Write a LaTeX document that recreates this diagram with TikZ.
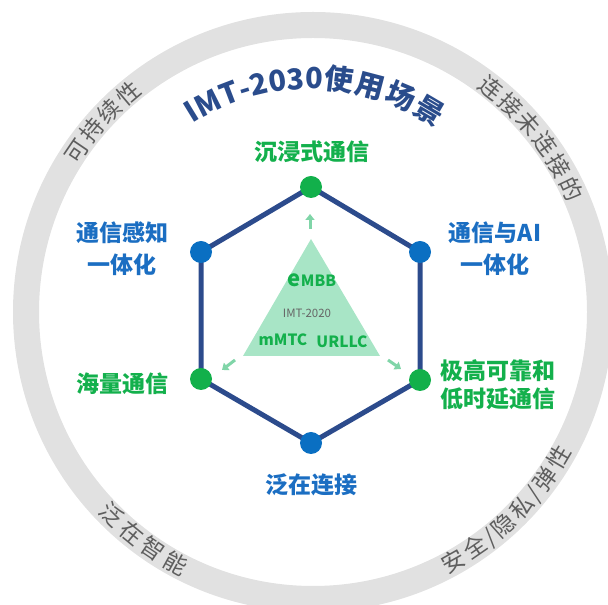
\documentclass[tikz,border=0pt]{standalone}
\usepackage{fontspec}
\setmainfont{Noto Sans CJK SC}
\usetikzlibrary{arrows.meta,backgrounds}
\definecolor{ringgray}{HTML}{E1E1E1}
\definecolor{ringtext}{HTML}{5E5E5E}
\definecolor{navy}{HTML}{2C4B8C}
\definecolor{titleblue}{HTML}{2A4C8C}
\definecolor{nodeblue}{HTML}{0A6FC2}
\definecolor{nodegreen}{HTML}{12B04B}
\definecolor{labelblue}{HTML}{1B6EC2}
\definecolor{labelgreen}{HTML}{13B04C}
\definecolor{tri}{HTML}{A8E5C6}
\definecolor{arrowgreen}{HTML}{80D5A8}
\definecolor{imtgray}{HTML}{666666}
\newcommand\myslash{/}
\tikzset{
  ringtxt/.style={text=ringtext, font=\fontsize{23}{23}\selectfont, inner sep=0pt, anchor=base},
  titlechar/.style={text=titleblue, font=\fontsize{29}{29}\selectfont\bfseries, inner sep=0pt, anchor=base},
  dotb/.style={circle, fill=nodeblue, minimum size=22pt, inner sep=0pt},
  dotg/.style={circle, fill=nodegreen, minimum size=22pt, inner sep=0pt},
  lblb/.style={text=labelblue, font=\fontsize{23}{32}\selectfont\bfseries, align=center, inner sep=0pt},
  lblg/.style={text=labelgreen, font=\fontsize{23}{28}\selectfont\bfseries, align=center, inner sep=0pt},
  hexedge/.style={navy, line width=5pt, line join=round},
  smallarrow/.style={arrowgreen, line width=3pt, -{Triangle[length=6pt,width=9pt]}},
  tritxt/.style={text=labelgreen, font=\fontsize{15.5}{15.5}\selectfont\bfseries, inner sep=0pt}
}
\begin{document}
\begin{tikzpicture}[x=1pt,y=1pt]
\useasboundingbox (0,0) rectangle (608,605);
\clip (0,0) rectangle (608,605);
\coordinate (C) at (313,293);
\coordinate (T0) at (312,296);
% outer ring
\draw[ringgray, line width=26pt] (C) circle[radius=287];
% ring texts (top: read clockwise, tops outward)
\foreach \ch/\a [count=\i] in {可/145.8,持/140.6,续/135.4,性/130.2}
  \node[ringtxt, rotate=\a-90] (ra\i) at ([shift={(\a:277.5)}]C) {\ch};
\foreach \ch/\a [count=\i] in {连/51.5,接/46.3,未/41.1,连/35.9,接/30.7,的/25.5}
  \node[ringtxt, rotate=\a-90] (rb\i) at ([shift={(\a:277.5)}]C) {\ch};
% bottom: read counter-clockwise, tops inward
\foreach \ch/\a [count=\i] in {泛/225.2,在/230.6,智/236.0,能/241.4}
  \node[ringtxt, rotate=\a+90] (rc\i) at ([shift={(\a:294.5)}]C) {\ch};
\foreach \ch/\a [count=\i] in {安/-60.6,全/-55.4,\myslash/-51.8,隐/-48.2,私/-43.0,\myslash/-39.4,弹/-35.8,性/-30.6}
  \node[ringtxt, rotate=\a+90] (rd\i) at ([shift={(\a:294.5)}]C) {\ch};
% title along arc
\foreach \ch/\a [count=\i] in {I/121.45,M/116.71,T/110.93,-/107.09,2/103.28,0/98.69,3/94.1,0/89.51,使/83.25,用/75.32,场/67.38,景/59.45}
  \node[titlechar, rotate=\a-90] (t\i) at ([shift={(\a:220)}]T0) {\ch};
% hexagon nodes
\node[dotg] (n1) at (311,418) {};
\node[dotb] (n2) at (420,353) {};
\node[dotg] (n3) at (420,225) {};
\node[dotb] (n4) at (311,162) {};
\node[dotg] (n5) at (201,226) {};
\node[dotb] (n6) at (201,353) {};
\begin{pgfonlayer}{background}
\draw[hexedge] (n1.center) -- (n2.center) -- (n3.center) -- (n4.center) -- (n5.center) -- (n6.center) -- cycle;
\end{pgfonlayer}
% labels
\node[lblg] (l1) at (312,453) {沉浸式通信};
\node[lblb] (l2) at (495,356) {通信与AI\\一体化};
\node[lblg] (l3) at (498,220) {极高可靠和\\低时延通信};
\node[lblb] (l4) at (311,120) {泛在连接};
\node[lblg] (l5) at (122,221) {海量通信};
\node[lblb] (l6) at (122,356) {通信感知\\一体化};
% central triangle
\fill[tri] (311,366) -- (243,249) -- (380,249) -- cycle;
\coordinate (a1s) at (310,376); \coordinate (a1e) at (310,391);
\coordinate (a2s) at (235,245); \coordinate (a2e) at (222,235);
\coordinate (a3s) at (388,245); \coordinate (a3e) at (401,236);
\draw[smallarrow] (a1s) -- (a1e);
\draw[smallarrow] (a2s) -- (a2e);
\draw[smallarrow] (a3s) -- (a3e);
\node[tritxt] (embb) at (312,325) {{\fontsize{22}{22}\selectfont e}MBB};
\node[text=imtgray, font=\fontsize{11.5}{11.5}\selectfont, inner sep=0pt] (imt) at (307,292) {IMT-2020};
\node[tritxt] (mmtc) at (283,265) {mMTC};
\node[tritxt] (urllc) at (342,263) {URLLC};
\end{tikzpicture}
\end{document}
